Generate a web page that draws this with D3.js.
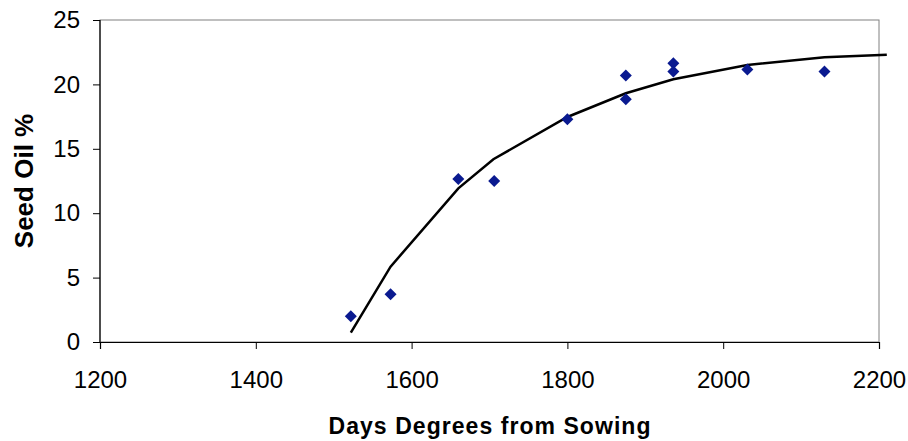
<!DOCTYPE html>
<html>
<head>
<meta charset="utf-8">
<script src="https://cdn.jsdelivr.net/npm/d3@7"></script>
<style>
  body { margin: 0; background: #fff; }
  svg text { font-family: "Liberation Sans", Arial, sans-serif; }
</style>
</head>
<body>
<div id="chart"></div>
<script>
// measured points (days degrees, seed oil %)
const obsDays = [1522, 1573, 1660, 1706, 1800, 1875, 1875, 1936, 1936, 2031, 2130];
const obsOil = [2.0, 3.7, 12.65, 12.5, 17.3, 20.7, 18.85, 21.65, 21.0, 21.15, 21.0];

// fitted curve
const fitDays = [1522, 1573, 1660, 1705, 1800, 1875, 1936, 2031, 2130, 2210];
const fitOil = [0.72, 5.85, 11.93, 14.19, 17.47, 19.31, 20.4, 21.51, 22.1, 22.31];

const xTicks = [1200, 1400, 1600, 1800, 2000, 2200];
const yTicks = [0, 5, 10, 15, 20, 25];

const w = 908, h = 441;
const plotL = 100, plotR = 879, plotT = 20, plotB = 342;

const svg = d3.select("#chart").append("svg")
    .attr("width", w)
    .attr("height", h);

const xScale = d3.scaleLinear().domain([1200, 2200]).range([plotL, plotR]);
const yScale = d3.scaleLinear().domain([0, 25]).range([plotB, plotT]);

// plot border (top and right in grey)
svg.append("rect")
    .attr("x", plotL)
    .attr("y", plotT)
    .attr("width", plotR - plotL)
    .attr("height", plotB - plotT)
    .attr("fill", "none")
    .attr("stroke", "#808080")
    .attr("stroke-width", 1);

// fitted line
const line = d3.line()
    .x((d, i) => xScale(fitDays[i]))
    .y((d) => yScale(d));

svg.append("path")
    .datum(fitOil)
    .attr("d", line)
    .attr("fill", "none")
    .attr("stroke", "#000")
    .attr("stroke-width", 2.5);

// diamonds
svg.selectAll(".pt")
    .data(obsOil)
    .enter()
    .append("path")
    .attr("class", "pt")
    .attr("d", "M0,-6L6,0L0,6L-6,0Z")
    .attr("transform", (d, i) => "translate(" + xScale(obsDays[i]) + "," + yScale(d) + ")")
    .attr("fill", "#0a1a90");

// axes
const xAxis = d3.axisBottom(xScale).tickValues(xTicks).tickFormat(d3.format("d"))
    .tickSize(7).tickPadding(22);
const yAxis = d3.axisLeft(yScale).tickValues(yTicks).tickFormat(d3.format("d"))
    .tickSize(7).tickPadding(13);

const gx = svg.append("g")
    .attr("transform", "translate(0," + plotB + ")")
    .call(xAxis);

const gy = svg.append("g")
    .attr("transform", "translate(" + plotL + ",0)")
    .call(yAxis);

[gx, gy].forEach(function (g) {
    g.select(".domain").attr("stroke", "#000").attr("stroke-width", 1.2);
    g.selectAll(".tick line").attr("stroke", "#000");
    g.selectAll(".tick text")
        .attr("fill", "#000")
        .style("font-size", "24px")
        .style("font-family", "Liberation Sans, Arial, sans-serif");
});
gy.select(".domain").attr("d", "M0," + (plotB + 0.5) + "V" + plotT);
gx.selectAll(".tick text").attr("y", 29).attr("dy", "0.71em");

// axis titles
svg.append("text")
    .attr("x", (plotL + plotR) / 2)
    .attr("y", 434)
    .attr("textLength", 322)
    .attr("lengthAdjust", "spacing")
    .style("text-anchor", "middle")
    .style("font-size", "23px")
    .style("font-weight", "bold")
    .text("Days Degrees from Sowing");

svg.append("text")
    .attr("transform", "rotate(-90)")
    .attr("x", -181)
    .attr("y", 33)
    .style("text-anchor", "middle")
    .style("font-size", "26px")
    .style("font-weight", "bold")
    .text("Seed Oil %");
</script>
</body>
</html>
